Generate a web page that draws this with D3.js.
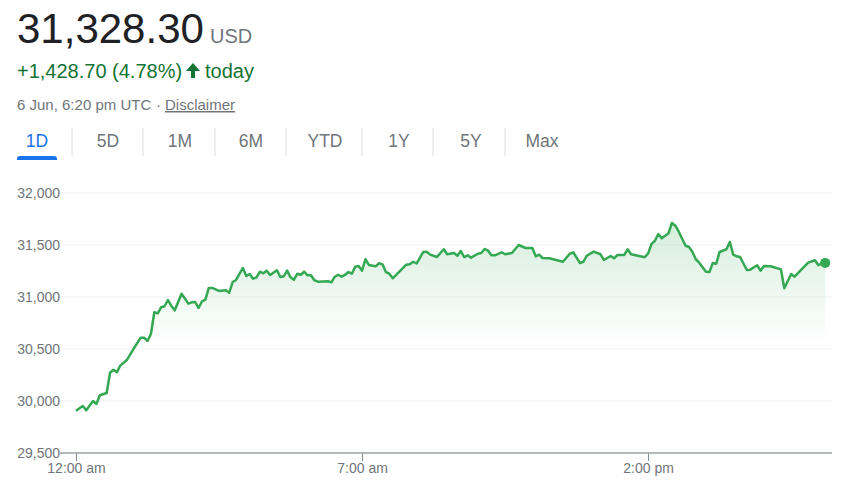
<!DOCTYPE html>
<html>
<head>
<meta charset="utf-8">
<script src="https://cdn.jsdelivr.net/npm/d3@7"></script>
<style>
    body { margin: 0; background: #fff; }
    text { font-family: "Liberation Sans", Arial, sans-serif; }
</style>
</head>
<body>
<div id="chart"></div>
<script>
// Minutes since midnight for each price reading
const minutes = [0,10,15,25,30,35,45,50,55,60,65,75,85,95,100,105,110,115,120,125,130,135,140,145,155,165,170,175,180,185,190,195,200,210,220,225,230,235,245,250,255,260,265,270,275,280,285,295,300,305,310,315,320,325,330,335,340,345,350,355,370,375,380,385,390,395,400,405,410,415,420,425,430,440,445,450,455,460,465,485,490,495,500,510,515,520,530,540,545,555,560,565,570,575,580,590,595,600,605,610,615,625,630,640,650,660,670,675,680,685,695,715,725,730,740,745,750,760,770,775,785,790,795,805,810,815,835,840,845,850,855,860,870,875,880,885,895,900,905,910,915,925,930,935,940,945,955,960,965,970,975,985,990,1000,1005,1010,1020,1035,1040,1050,1055,1075,1085,1090,1095,1100];
const prices = [29907,29952,29911,30000,29971,30055,30077,30272,30301,30276,30340,30397,30507,30609,30609,30577,30644,30853,30843,30901,30911,30971,30914,30872,31032,30936,30949,30952,30894,30959,30974,31087,31087,31058,31064,31041,31144,31164,31279,31202,31221,31176,31189,31243,31228,31253,31212,31257,31192,31199,31253,31189,31166,31224,31214,31243,31209,31209,31161,31147,31151,31141,31195,31214,31195,31212,31240,31224,31291,31298,31253,31363,31308,31295,31324,31314,31240,31224,31180,31311,31314,31339,31322,31433,31436,31407,31385,31459,31411,31423,31397,31442,31382,31401,31378,31416,31423,31462,31445,31401,31401,31430,31411,31423,31500,31471,31471,31391,31407,31375,31372,31339,31416,31430,31327,31339,31397,31436,31411,31356,31394,31372,31404,31404,31459,31411,31382,31420,31510,31541,31606,31564,31613,31712,31686,31628,31493,31481,31436,31363,31330,31243,31240,31327,31320,31433,31459,31529,31407,31391,31385,31260,31263,31305,31253,31298,31295,31266,31084,31221,31195,31330,31353,31305,31324,31328];

const yTicks = [29500, 30000, 30500, 31000, 31500, 32000];
const xTicks = [0, 420, 840];
const xTickLabels = ["12:00 am", "7:00 am", "2:00 pm"];
const tabs = ["1D", "5D", "1M", "6M", "YTD", "1Y", "5Y", "Max"];
const tabCenters = [37, 108, 180, 251, 325, 399, 471, 542];
const tabSeparators = [72, 143, 215, 286, 362, 433, 505];

const width = 853;
const height = 484;
const green = "#34a853";
const grey = "#70757a";

const svg = d3.select("#chart")
    .append("svg")
    .attr("width", width)
    .attr("height", height)
    .style("display", "block");

// Header block
svg.append("text").attr("x", 17).attr("y", 43)
    .attr("font-size", "42px").attr("fill", "#202124").text("31,328.30");
svg.append("text").attr("x", 210).attr("y", 43)
    .attr("font-size", "20px").attr("fill", grey).text("USD");
svg.append("text").attr("x", 17).attr("y", 78)
    .attr("font-size", "20px").attr("fill", "#137333").text("+1,428.70 (4.78%)");
svg.append("path")
    .attr("transform", "translate(186, 63)")
    .attr("d", "M7 0l7 8h-5v7H5V8H0z")
    .attr("fill", "#137333");
svg.append("text").attr("x", 205).attr("y", 78)
    .attr("font-size", "20px").attr("fill", "#137333").text("today");
svg.append("text").attr("x", 17).attr("y", 110)
    .attr("font-size", "15px").attr("fill", grey).text("6 Jun, 6:20 pm UTC");
svg.append("text").attr("x", 156).attr("y", 110)
    .attr("font-size", "15px").attr("fill", grey).text("·");
svg.append("text").attr("x", 165).attr("y", 110)
    .attr("font-size", "15px").attr("fill", grey)
    .attr("text-decoration", "underline").text("Disclaimer");

// Range tabs
svg.selectAll("text.tab")
    .data(tabs)
    .enter()
    .append("text")
    .attr("class", "tab")
    .attr("x", (d, i) => tabCenters[i])
    .attr("y", 147)
    .attr("text-anchor", "middle")
    .attr("font-size", "17.5px")
    .attr("fill", (d, i) => i === 0 ? "#1a73e8" : grey)
    .text(d => d);

svg.selectAll("line.sep")
    .data(tabSeparators)
    .enter()
    .append("line")
    .attr("class", "sep")
    .attr("x1", d => d).attr("x2", d => d)
    .attr("y1", 128).attr("y2", 156)
    .attr("stroke", "#dadce0");

svg.append("path")
    .attr("d", "M17 160v-1a3 3 0 0 1 3-3h34a3 3 0 0 1 3 3v1z")
    .attr("fill", "#1a73e8");

// Scales
const x = d3.scaleLinear().domain([0, 1110]).range([76, 832]);
const y = d3.scaleLinear().domain([29500, 32000]).range([453, 193]);

// Grid lines
svg.selectAll("line.grid")
    .data(yTicks.slice(1))
    .enter()
    .append("line")
    .attr("class", "grid")
    .attr("x1", 60).attr("x2", 832)
    .attr("y1", d => y(d)).attr("y2", d => y(d))
    .attr("stroke", "#f6f6f6")
    .attr("stroke-width", 1.5);

// Y labels
const yAxis = svg.append("g")
    .attr("transform", "translate(60, 0)")
    .call(d3.axisLeft(y).tickValues(yTicks).tickSize(0).tickPadding(0).tickFormat(d3.format(",")));
yAxis.select(".domain").remove();
yAxis.selectAll("text")
    .attr("font-family", null)
    .attr("font-size", "14px")
    .attr("fill", grey);

// X axis
const xAxis = svg.append("g")
    .attr("transform", "translate(0, 453)")
    .call(d3.axisBottom(x).tickValues(xTicks).tickSizeInner(8).tickSizeOuter(0).tickPadding(2)
        .tickFormat((d, i) => xTickLabels[i]));
xAxis.select(".domain").remove();
xAxis.append("line")
    .attr("x1", 60).attr("x2", 832)
    .attr("stroke", "#9aa0a6").attr("stroke-width", 1.5);
xAxis.selectAll(".tick line").attr("stroke", "#80868b").attr("stroke-width", 1);
xAxis.selectAll("text")
    .attr("font-family", null)
    .attr("font-size", "14px")
    .attr("fill", grey);

// Gradient under the line
const gradient = svg.append("defs").append("linearGradient")
    .attr("id", "areaFill")
    .attr("gradientUnits", "userSpaceOnUse")
    .attr("x1", 0).attr("x2", 0)
    .attr("y1", y(d3.max(prices))).attr("y2", 345);
gradient.append("stop").attr("offset", "0%").attr("stop-color", green).attr("stop-opacity", 0.2);
gradient.append("stop").attr("offset", "100%").attr("stop-color", green).attr("stop-opacity", 0);

const points = minutes.map((m, i) => ({ minute: m, price: prices[i] }));

svg.append("path")
    .datum(points)
    .attr("fill", "url(#areaFill)")
    .attr("d", d3.area().x(d => x(d.minute)).y0(345).y1(d => y(d.price)));

svg.append("path")
    .datum(points)
    .attr("fill", "none")
    .attr("stroke", green)
    .attr("stroke-width", 2.5)
    .attr("stroke-linejoin", "round")
    .attr("d", d3.line().x(d => x(d.minute)).y(d => y(d.price)));

// Last price dot
const last = points[points.length - 1];
svg.append("circle")
    .attr("cx", x(last.minute))
    .attr("cy", y(last.price))
    .attr("r", 5)
    .attr("fill", green);
</script>
</body>
</html>
